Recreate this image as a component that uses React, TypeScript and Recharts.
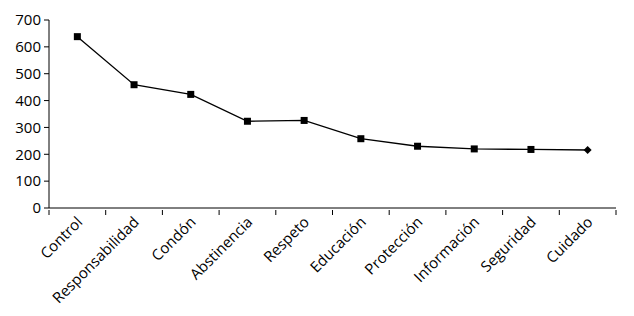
import { Line, LineChart, XAxis, YAxis } from "recharts";

const categories = [
  "Control",
  "Responsabilidad",
  "Condón",
  "Abstinencia",
  "Respeto",
  "Educación",
  "Protección",
  "Información",
  "Seguridad",
  "Cuidado",
];
const counts = [638, 459, 423, 323, 326, 258, 230, 220, 218, 216];
const yTicks = [0, 100, 200, 300, 400, 500, 600, 700];

const data = categories.map((name, i) => ({ name, value: counts[i] }));

const FONT = "'Open Sans', sans-serif";
const W = 618;
const MARGIN = { top: 12, right: 10, bottom: 0, left: 0 };
const Y_WIDTH = 41;
const BAND = (W - MARGIN.left - MARGIN.right - Y_WIDTH) / categories.length;

// marcas entre categorías + etiqueta girada -45°
function AngledTick(props: any) {
  const { x, y, payload, index } = props;
  const last = index === categories.length - 1;
  return (
    <g>
      <line x1={x - BAND / 2} x2={x - BAND / 2} y1={y} y2={y + 5} stroke="#000" />
      {last && <line x1={x + BAND / 2} x2={x + BAND / 2} y1={y} y2={y + 5} stroke="#000" />}
      <g transform={`translate(${x - 1},${y + 6})`}>
        <text
          textAnchor="end"
          transform="rotate(-45)"
          fontSize={15}
          fontFamily={FONT}
          fill="#000"
          dy={10}
        >
          {payload.value}
        </text>
      </g>
    </g>
  );
}

// cuadrados negros; el último punto es un rombo
function Marker(props: any) {
  const { cx, cy, index } = props;
  if (cx == null || cy == null) return <g key={index} />;
  if (index === data.length - 1) {
    return (
      <polygon
        key={index}
        points={`${cx},${cy - 4} ${cx + 4},${cy} ${cx},${cy + 4} ${cx - 4},${cy}`}
        fill="#000"
      />
    );
  }
  return <rect key={index} x={cx - 3.5} y={cy - 3.5} width={7} height={7} fill="#000" />;
}

export default function App() {
  return (
    <LineChart width={W} height={300} data={data} margin={MARGIN}>
      <XAxis
        dataKey="name"
        scale="band"
        stroke="#000"
        tickLine={false}
        tickSize={0}
        interval={0}
        height={100}
        tick={<AngledTick />}
      />
      <YAxis
        domain={[0, 700]}
        ticks={yTicks}
        width={Y_WIDTH}
        tickSize={5}
        tickMargin={3}
        stroke="#000"
        tick={{ fill: "#000", fontSize: 15, fontFamily: FONT }}
      />
      <Line
        type="linear"
        dataKey="value"
        stroke="#000"
        strokeWidth={1.3}
        dot={<Marker />}
        activeDot={false}
        isAnimationActive={false}
      />
    </LineChart>
  );
}
